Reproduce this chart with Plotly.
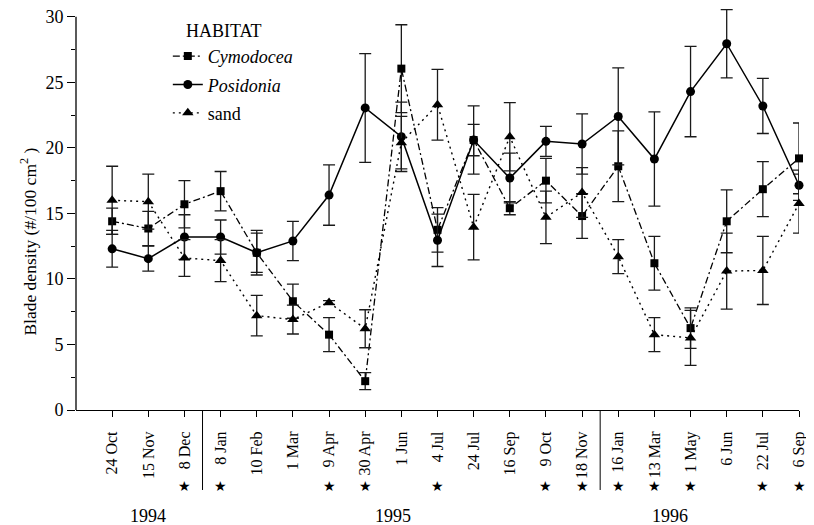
import plotly.graph_objects as go

# ---- data ----
dates = ["24 Oct", "15 Nov", "8 Dec", "8 Jan", "10 Feb", "1 Mar", "9 Apr", "30 Apr",
         "1 Jun", "4 Jul", "24 Jul", "16 Sep", "9 Oct", "18 Nov", "16 Jan", "13 Mar",
         "1 May", "6 Jun", "22 Jul", "6 Sep"]
starred = [False, False, True, True, False, False, True, True, False, True,
           False, False, True, True, True, True, True, False, True, True]
years = ["1994", "1995", "1996"]

cymodocea = [14.4, 13.85, 15.7, 16.7, 12.0, 8.3, 5.75, 2.2, 26.05, 13.75,
             20.6, 15.4, 17.5, 14.8, 18.6, 11.2, 6.25, 14.4, 16.85, 19.2]
cymodocea_err = [1.0, 1.3, 1.8, 1.5, 1.7, 1.3, 1.3, 0.65, 3.35, 1.7,
                 1.2, 0.5, 1.7, 1.7, 2.7, 2.05, 1.55, 2.4, 2.1, 2.7]

posidonia = [12.3, 11.55, 13.2, 13.2, 12.0, 12.9, 16.4, 23.05, 20.85, 12.95,
             20.6, 17.7, 20.5, 20.3, 22.4, 19.15, 24.3, 27.95, 23.2, 17.15]
posidonia_err = [1.4, 0.95, 1.7, 1.3, 1.5, 1.5, 2.3, 4.15, 2.65, 2.0,
                 2.6, 1.9, 1.15, 2.3, 3.7, 3.6, 3.45, 2.6, 2.1, 1.15]

sand = [16.0, 15.9, 11.6, 11.4, 7.2, 6.9, 8.2, 6.2, 20.4, 23.3,
        13.95, 20.85, 14.7, 16.6, 11.7, 5.75, 5.5, 10.6, 10.65, 15.75]
sand_err = [2.6, 2.1, 1.4, 1.6, 1.55, 1.1, 0.15, 1.45, 2.0, 2.7,
            2.5, 2.6, 2.0, 1.9, 1.3, 1.3, 2.1, 2.9, 2.6, 2.25]

FONT = "Liberation Serif"
x = list(range(len(dates)))
Y_TOP = 30          # top of drawn axis
Y_RANGE_TOP = 30.6  # headroom so error bars above 30 are not clipped

fig = go.Figure()

def add(name, y, err, symbol, size, dash, width, group):
    fig.add_trace(go.Scatter(
        x=x, y=y, name=name, mode="lines+markers", legendgroup=group,
        line=dict(color="black", width=width, dash=dash),
        marker=dict(symbol=symbol, size=size, color="black"),
        error_y=dict(type="data", array=err, visible=True, color="#1a1a1a",
                     thickness=1.3, width=6),
        cliponaxis=False,
    ))

add("<i>Cymodocea</i>", cymodocea, cymodocea_err, "square", 8, "7px,3px,2px,3px", 1.3, "c")
add("<i>Posidonia</i>", posidonia, posidonia_err, "circle", 9, "solid", 1.5, "p")
add("sand", sand, sand_err, "triangle-up", 10, "2px,4px", 1.4, "s")

annotations = []
for i, s in enumerate(starred):
    if s:
        annotations.append(dict(x=i, y=-0.1895, xref="x", yref="paper", text="★",
                                showarrow=False, font=dict(family="DejaVu Sans", size=14, color="black"),
                                xanchor="center", yanchor="middle"))
for yr, pos in zip(years, [1.0, 7.78, 15.42]):
    annotations.append(dict(x=pos, y=-0.264, xref="x", yref="paper", text=yr,
                            showarrow=False, font=dict(family=FONT, size=18, color="black"),
                            xanchor="center", yanchor="middle"))
annotations.append(dict(x=0.205, y=0.945, xref="paper", yref="paper", text="HABITAT",
                        showarrow=False, font=dict(family=FONT, size=18, color="black"),
                        xanchor="center", yanchor="middle"))
# y axis title
annotations.append(dict(x=-0.0664, y=0.42, xref="paper", yref="paper",
                        text="Blade density (#/100 cm<sup>2</sup> )", textangle=-90,
                        showarrow=False, font=dict(family=FONT, size=17.5, color="black"),
                        xanchor="center", yanchor="middle"))

shapes = []
for sx in [2.5, 13.5]:
    shapes.append(dict(type="line", x0=sx, x1=sx, y0=0, y1=-0.1995, xref="x", yref="paper",
                       line=dict(color="black", width=1)))
# y axis line from just below 0 to 30 only
shapes.append(dict(type="line", x0=0, x1=0, xref="paper", y0=-0.3, y1=Y_TOP, yref="y",
                   line=dict(color="black", width=1.3)))

# page body has an 8px margin: figure is 806x517 so it ends at the window edge
fig.update_layout(
    width=806, height=517,
    margin=dict(l=68, r=15, t=1, b=115),
    paper_bgcolor="white", plot_bgcolor="white",
    font=dict(family=FONT, color="black"),
    showlegend=True,
    legend=dict(x=0.127, y=0.928, xanchor="left", yanchor="top",
                font=dict(family=FONT, size=18), bgcolor="rgba(0,0,0,0)",
                traceorder="grouped", tracegroupgap=2),
    annotations=annotations,
    shapes=shapes,
)
fig.update_xaxes(
    range=[-1, 19], tickvals=x, ticktext=dates, tickangle=-90,
    showline=True, linecolor="black", linewidth=1.2,
    ticks="outside", ticklen=6, tickcolor="black", tickwidth=1.2,
    ticklabelstandoff=8,
    tickfont=dict(family=FONT, size=16), showgrid=False, zeroline=False,
    automargin=False,
)
fig.update_yaxes(
    range=[0, Y_RANGE_TOP], tickvals=list(range(0, Y_TOP + 1, 5)),
    showline=False, ticklabeloverflow="allow",
    ticks="outside", ticklen=8, tickcolor="black", tickwidth=1.2,
    minor=dict(tickvals=[v + 2.5 for v in range(0, Y_TOP, 5)], ticks="outside",
               ticklen=4, tickcolor="black", tickwidth=1.2),
    tickfont=dict(family=FONT, size=18), showgrid=False, zeroline=False,
    automargin=False,
)

fig.write_html("out.html")
